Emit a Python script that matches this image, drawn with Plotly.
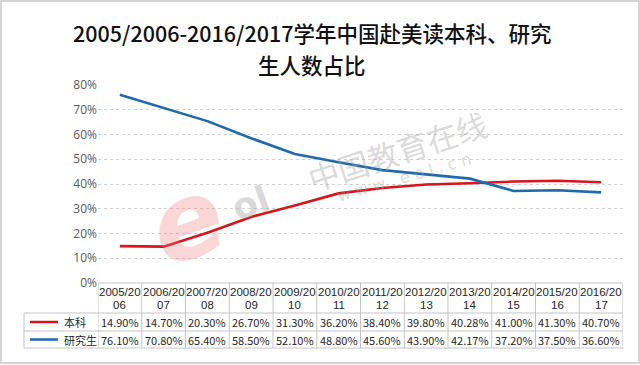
import plotly.graph_objects as go

# ---------------- data ----------------
years = ["2005/2006", "2006/2007", "2007/2008", "2008/2009", "2009/2010", "2010/2011",
         "2011/2012", "2012/2013", "2013/2014", "2014/2015", "2015/2016", "2016/2017"]
bachelor = [14.90, 14.70, 20.30, 26.70, 31.30, 36.20, 38.40, 39.80, 40.28, 41.00, 41.30, 40.70]
graduate = [76.10, 70.80, 65.40, 58.50, 52.10, 48.80, 45.60, 43.90, 42.17, 37.20, 37.50, 36.60]
series_names = ["本科", "研究生"]
y_ticks = [0, 10, 20, 30, 40, 50, 60, 70, 80]
title_lines = ["2005/2006-2016/2017学年中国赴美读本科、研究", "生人数占比"]

# ---------------- layout geometry ----------------
W, H = 640, 365
L, R, T, B = 98, 623, 85, 283
RED = "#d7151b"
BLUE = "#1f6aae"
GRID = "#d3d3d3"
TBL = "#c4c4c4"
FONT = "Noto Sans CJK SC"
TXT = "#262626"


def px(xp):
    return (xp - L) / (R - L)


def py(yp):
    return (B - yp) / (B - T)


xs = list(range(len(years)))

fig = go.Figure()
fig.add_trace(go.Scatter(x=xs, y=bachelor, mode="lines", name=series_names[0],
                         line=dict(color=RED, width=2.6), showlegend=False))
fig.add_trace(go.Scatter(x=xs, y=graduate, mode="lines", name=series_names[1],
                         line=dict(color=BLUE, width=2.6), showlegend=False))

shapes = []
annotations = []


def note(x, y, text, xref="paper", size=11, color=TXT, family=FONT, xanchor="center",
         angle=0, weight="normal"):
    annotations.append(dict(x=x, y=y, xref=xref, yref="paper", text=text, showarrow=False,
                            xanchor=xanchor, yanchor="middle", textangle=angle,
                            font=dict(family=family, size=size, color=color, weight=weight)))


# title (two centred lines)
note(px(312), py(32.5), title_lines[0], size=21.5, color="#111111", weight=500)
note(px(312), py(64), title_lines[1], size=21.5, color="#111111", weight=500)

# table rows (pixel y)
y_top, y_hdr, y_r1, y_r2 = 283, 313, 331, 348
x_leg = 24

# horizontal table lines
shapes.append(dict(type="line", xref="paper", yref="paper", x0=px(L), x1=px(R),
                   y0=py(y_top), y1=py(y_top), line=dict(color=TBL, width=1)))
for yy in (y_hdr, y_r1, y_r2):
    shapes.append(dict(type="line", xref="paper", yref="paper", x0=px(x_leg), x1=px(R),
                       y0=py(yy), y1=py(yy), line=dict(color=TBL, width=1)))
# vertical table lines
for i in range(len(years) + 1):
    shapes.append(dict(type="line", xref="x", yref="paper", x0=i - 0.5, x1=i - 0.5,
                       y0=py(y_top), y1=py(y_r2), line=dict(color=TBL, width=1)))
shapes.append(dict(type="line", xref="paper", yref="paper", x0=px(x_leg), x1=px(x_leg),
                   y0=py(y_hdr), y1=py(y_r2), line=dict(color=TBL, width=1)))

# header text (two lines per cell)
for i, c in enumerate(years):
    note(i, py(291.5), c[:7], xref="x", family="Liberation Sans", size=11.5)
    note(i, py(304.8), c[7:], xref="x", family="Liberation Sans", size=11.5)

# value rows
for vals, yc in ((bachelor, 322), (graduate, 339.5)):
    for i, v in enumerate(vals):
        note(i, py(yc), f"{v:.2f}%", xref="x")

# legend keys in table
for name, col, yc in ((series_names[0], RED, 322), (series_names[1], BLUE, 339.5)):
    shapes.append(dict(type="line", xref="paper", yref="paper", x0=px(30), x1=px(58),
                       y0=py(yc), y1=py(yc), line=dict(color=col, width=2.5)))
    note(px(62), py(yc), name, xanchor="left")

# watermark
note(px(186), py(222), "<i><b>e</b></i>", size=105, color="rgba(240,120,120,0.30)",
     family="DejaVu Sans", angle=-20)
note(px(250), py(203), "<b>ol</b>", size=36, color="rgba(170,170,170,0.45)",
     family="DejaVu Sans", angle=-20)
note(px(397), py(150), "中国教育在线", size=31, color="rgba(160,160,160,0.40)", angle=-18)
note(px(404), py(177), "w w w . e o l . c n", size=16, color="rgba(160,160,160,0.40)",
     family="DejaVu Sans", angle=-16)

# outer frame
shapes.append(dict(type="rect", xref="paper", yref="paper", x0=px(1), x1=px(639),
                   y0=py(1), y1=py(363), line=dict(color="#d4d4d4", width=2), layer="below"))

fig.update_layout(
    width=W, height=H,
    margin=dict(l=L, r=W - R, t=T, b=H - B),
    paper_bgcolor="white", plot_bgcolor="white",
    xaxis=dict(range=[-0.5, len(years) - 0.5], showgrid=False, zeroline=False,
               showticklabels=False, showline=False),
    yaxis=dict(range=[0, 80], tickmode="array", tickvals=y_ticks,
               ticktext=[f"{v}%" for v in y_ticks], showgrid=True,
               gridcolor=GRID, griddash="dot", gridwidth=1, zeroline=False, showline=False,
               ticks="", tickfont=dict(family="Open Sans", size=12, color="#595959")),
    shapes=shapes, annotations=annotations, showlegend=False,
)

fig.write_html("out.html", config={"displayModeBar": False},
               post_script="document.body.style.margin='0';")
